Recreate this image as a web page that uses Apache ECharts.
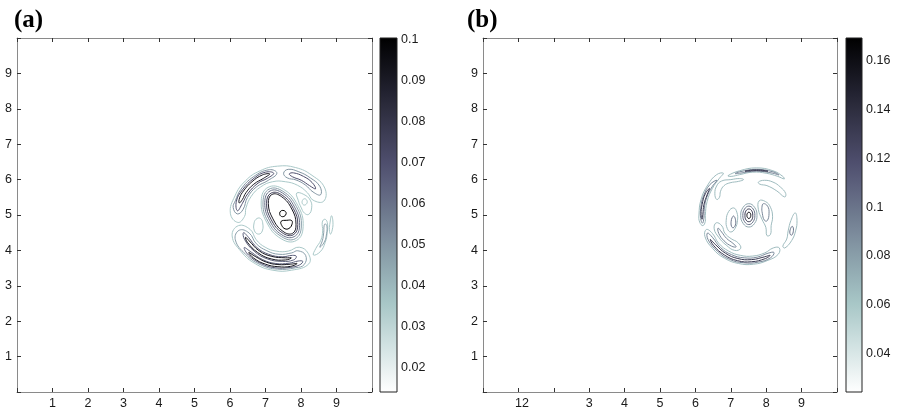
<!DOCTYPE html>
<html><head><meta charset="utf-8">
<script src="https://cdn.jsdelivr.net/npm/echarts@6/dist/echarts.min.js"></script>
<style>html,body{margin:0;padding:0;background:#fff}#c{width:897px;height:411px}</style>
</head><body><div id="c"></div>
<script>
// ---------- axis tick labels ----------
const aXLabels = ['', '1', '2', '3', '4', '5', '6', '7', '8', '9', ''];
const bXLabels = ['', '12', '', '3', '4', '5', '6', '7', '8', '9', ''];
const yLabels  = ['', '1', '2', '3', '4', '5', '6', '7', '8', '9', ''];
// ---------- colorbars ----------
const aCbRange = [0.0141, 0.1004];
const aCbTicks = [0.02, 0.03, 0.04, 0.05, 0.06, 0.07, 0.08, 0.09, 0.1];
const bCbRange = [0.0241, 0.1694];
const bCbTicks = [0.04, 0.06, 0.08, 0.1, 0.12, 0.14, 0.16];

// ---------- panel (a) contour paths (x, y) ----------
const aC1 = [[7.87,4.28],[8.06,4.67],[7.91,5.27],[7.50,5.73],[7.07,5.78],[6.88,5.40],[7.03,4.80],[7.44,4.33]];
const aC2 = [[7.84,4.33],[8.01,4.69],[7.87,5.24],[7.49,5.67],[7.10,5.73],[6.93,5.37],[7.07,4.82],[7.45,4.39]];
const aC3 = [[7.81,4.39],[7.96,4.71],[7.82,5.22],[7.48,5.62],[7.13,5.68],[6.98,5.35],[7.12,4.84],[7.46,4.44]];
const aC4 = [[7.78,4.44],[7.91,4.73],[7.78,5.19],[7.47,5.56],[7.16,5.62],[7.03,5.33],[7.16,4.87],[7.47,4.50]];
const aC5 = [[7.76,4.48],[7.86,4.74],[7.74,5.17],[7.45,5.52],[7.18,5.58],[7.08,5.32],[7.21,4.89],[7.49,4.54]];
const aOval = [[7.49,5.13],[7.56,5.10],[7.58,5.03],[7.52,4.96],[7.43,4.97],[7.40,5.05],[7.43,5.11]];
const aD = [[7.44,4.82],[7.46,4.70],[7.55,4.61],[7.66,4.62],[7.74,4.72],[7.74,4.84],[7.60,4.85]];
const aM1 = [[8.64,5.39],[8.67,5.76],[8.31,6.12],[7.85,6.34],[7.34,6.38],[6.85,6.25],[6.43,5.96],[6.14,5.54],[6.01,5.05],[6.22,4.79],[6.41,4.96],[6.45,5.20],[6.60,5.53],[6.86,5.79],[7.20,5.94],[7.56,5.94],[7.90,5.84],[8.18,5.63],[8.34,5.42]];
const aTL2 = [[7.32,6.18],[7.11,6.28],[6.66,6.08],[6.31,5.73],[6.15,5.40],[6.09,5.21],[6.21,5.03],[6.37,5.16],[6.49,5.49],[6.74,5.79],[7.08,5.98]];
const aTL3 = [[7.23,6.18],[7.00,6.21],[6.68,6.04],[6.35,5.71],[6.18,5.39],[6.21,5.12],[6.35,5.33],[6.50,5.60],[6.79,5.90],[7.06,6.04]];
const aTL4 = [[7.12,6.16],[6.91,6.13],[6.62,5.94],[6.38,5.68],[6.27,5.48],[6.26,5.34],[6.35,5.44],[6.45,5.63],[6.67,5.87],[6.95,6.04]];
const aTR2 = [[8.55,5.57],[8.53,5.81],[8.26,6.05],[7.94,6.22],[7.64,6.29],[7.51,6.18],[7.61,6.05],[7.86,5.99],[8.12,5.85],[8.34,5.65]];
const aTR3 = [[8.41,5.74],[8.31,5.92],[8.07,6.09],[7.79,6.19],[7.67,6.16],[7.76,6.08],[8.01,5.98],[8.24,5.83]];
const aRo = [[8.10,5.46],[8.16,5.42],[8.17,5.34],[8.10,5.28],[8.04,5.32],[8.04,5.41]];
const aRI = [[7.88,5.62],[8.08,5.58],[8.26,5.42],[8.30,5.20],[8.22,5.02],[8.10,5.05],[8.00,5.22],[7.92,5.42]];
const aLo = [[6.86,4.90],[6.92,4.78],[6.91,4.55],[6.81,4.46],[6.69,4.55],[6.68,4.78],[6.76,4.90]];
const aB1 = [[6.24,4.70],[6.06,4.41],[6.32,3.96],[6.72,3.62],[7.21,3.44],[7.73,3.44],[8.22,3.62],[8.20,3.92],[7.95,4.09],[7.64,3.98],[7.30,3.98],[6.99,4.09],[6.74,4.30],[6.57,4.59]];
const aB2 = [[6.26,4.57],[6.15,4.30],[6.44,3.89],[6.85,3.60],[7.34,3.47],[7.85,3.51],[8.09,3.60],[8.13,3.86],[7.91,3.99],[7.74,3.93],[7.38,3.89],[7.04,3.99],[6.74,4.19],[6.54,4.49]];
const aIB1 = [[6.38,4.50],[6.41,4.31],[6.68,3.98],[7.05,3.76],[7.47,3.69],[7.79,3.73],[7.87,3.83],[7.76,3.86],[7.47,3.82],[7.09,3.89],[6.76,4.08],[6.52,4.37]];
const aIB2 = [[6.44,4.37],[6.49,4.23],[6.78,3.94],[7.16,3.76],[7.57,3.73],[7.73,3.79],[7.57,3.79],[7.18,3.83],[6.82,3.99],[6.54,4.27]];
const aOB1 = [[6.40,4.08],[6.52,3.87],[6.87,3.63],[7.27,3.51],[7.69,3.52],[7.96,3.59],[8.05,3.69],[7.92,3.70],[7.67,3.64],[7.29,3.63],[6.92,3.74],[6.60,3.95]];
const aOB2 = [[6.53,3.94],[6.67,3.78],[7.00,3.61],[7.35,3.54],[7.71,3.55],[7.89,3.63],[7.70,3.61],[7.35,3.60],[7.02,3.67],[6.71,3.83]];
const aBR1 = [[8.35,3.87],[8.54,3.96],[8.68,4.22],[8.74,4.51],[8.74,4.79],[8.67,4.88],[8.60,4.80],[8.61,4.55],[8.56,4.29],[8.42,4.06]];
const aBR2 = [[8.53,4.09],[8.66,4.24],[8.72,4.47],[8.73,4.68],[8.68,4.75],[8.65,4.69],[8.64,4.50],[8.60,4.27]];
const aFR = [[8.86,4.98],[8.90,4.80],[8.88,4.58],[8.83,4.46],[8.80,4.58],[8.82,4.80]];
const aPaths  = [aC1, aC2, aC3, aC4, aC5, aOval, aD, aM1, aTL2, aTL3, aTL4, aTR2, aTR3, aRo, aRI, aLo, aB1, aB2, aIB1, aIB2, aOB1, aOB2, aBR1, aBR2, aFR];
const aLevels = [0.035, 0.047, 0.06, 0.075, 0.09, 0.1, 0.1, 0.035, 0.05, 0.07, 0.09, 0.05, 0.07, 0.035, 0.035, 0.035, 0.035, 0.047, 0.065, 0.092, 0.065, 0.092, 0.035, 0.047, 0.035];

// ---------- panel (b) contour paths (x, y) ----------
const bC1 = [[7.51,5.32],[7.67,5.22],[7.74,4.99],[7.67,4.76],[7.51,4.66],[7.35,4.76],[7.28,4.99],[7.35,5.22]];
const bC2 = [[7.51,5.25],[7.63,5.17],[7.68,4.99],[7.63,4.81],[7.51,4.73],[7.39,4.81],[7.34,4.99],[7.39,5.17]];
const bC3 = [[7.51,5.17],[7.59,5.12],[7.62,4.99],[7.59,4.86],[7.51,4.81],[7.43,4.86],[7.40,4.99],[7.43,5.12]];
const bC4 = [[7.51,5.08],[7.55,5.05],[7.565,4.99],[7.55,4.93],[7.51,4.90],[7.47,4.93],[7.455,4.99],[7.47,5.05]];
const bL1 = [[7.08,5.20],[7.17,5.08],[7.19,4.85],[7.12,4.62],[7.00,4.52],[6.90,4.62],[6.87,4.85],[6.94,5.10]];
const bL2 = [[7.08,4.97],[7.13,4.88],[7.13,4.72],[7.07,4.64],[7.02,4.68],[7.01,4.82],[7.04,4.93]];
const bV1 = [[7.80,5.40],[7.98,5.38],[8.12,5.22],[8.18,4.95],[8.14,4.70],[8.12,4.45],[8.02,4.42],[7.99,4.65],[7.88,4.88],[7.78,5.15]];
const bV2 = [[7.92,5.32],[8.04,5.25],[8.08,5.05],[8.03,4.84],[7.95,4.85],[7.89,5.05],[7.88,5.22]];
const bTL = [[6.60,5.44],[6.55,5.60],[6.60,5.82],[6.74,5.96],[7.00,6.00],[7.25,6.03],[7.36,6.00],[7.22,5.95],[6.98,5.91],[6.81,5.83],[6.71,5.67],[6.68,5.50]];
const bTR = [[7.78,5.93],[7.95,5.98],[8.19,5.93],[8.40,5.79],[8.55,5.61],[8.52,5.51],[8.30,5.68],[8.02,5.83],[7.82,5.87]];
const bT1 = [[6.92,6.11],[7.25,6.25],[7.72,6.33],[8.19,6.25],[8.47,6.09],[8.51,6.02],[8.33,6.09],[8.00,6.18],[7.62,6.21],[7.25,6.14],[7.01,6.09]];
const bT2 = [[7.12,6.17],[7.25,6.22],[7.72,6.29],[8.19,6.22],[8.36,6.13],[8.19,6.18],[7.72,6.24],[7.25,6.18]];
const bT3 = [[7.40,6.235],[7.72,6.275],[8.05,6.235],[7.72,6.255]];
const bA1 = [[6.79,6.18],[6.60,6.14],[6.35,5.85],[6.16,5.44],[6.10,5.00],[6.12,4.80],[6.21,4.70],[6.28,4.82],[6.28,4.99],[6.33,5.38],[6.48,5.75],[6.68,6.04]];
const bA2 = [[6.61,5.98],[6.41,5.86],[6.23,5.54],[6.15,5.19],[6.15,4.90],[6.20,4.77],[6.24,4.91],[6.25,5.17],[6.32,5.50],[6.48,5.81]];
const bA3 = [[6.40,5.75],[6.28,5.60],[6.19,5.30],[6.16,5.02],[6.19,4.88],[6.21,5.02],[6.24,5.29],[6.33,5.57]];
const bB1 = [[6.31,4.59],[6.27,4.39],[6.49,4.05],[6.82,3.78],[7.22,3.63],[7.64,3.61],[8.05,3.72],[8.34,3.89],[8.37,4.07],[8.20,4.07],[7.96,3.93],[7.62,3.84],[7.27,3.86],[6.94,3.98],[6.66,4.20],[6.48,4.48]];
const bB2 = [[6.34,4.49],[6.36,4.30],[6.62,3.98],[6.96,3.75],[7.36,3.65],[7.78,3.67],[8.12,3.79],[8.22,3.94],[8.05,3.92],[7.75,3.81],[7.38,3.79],[7.02,3.88],[6.71,4.08],[6.48,4.37]];
const bB3 = [[6.42,4.31],[6.52,4.13],[6.82,3.87],[7.19,3.71],[7.59,3.68],[7.98,3.77],[8.11,3.86],[7.96,3.82],[7.59,3.74],[7.20,3.77],[6.85,3.92],[6.56,4.17]];
const bBL1 = [[6.59,4.78],[6.53,4.61],[6.66,4.37],[6.87,4.15],[7.11,4.00],[7.28,4.06],[7.20,4.22],[7.01,4.33],[6.83,4.49],[6.75,4.69]];
const bBL2 = [[6.64,4.63],[6.66,4.48],[6.81,4.27],[7.02,4.12],[7.15,4.10],[7.06,4.20],[6.88,4.34],[6.74,4.52]];
const bRS1 = [[8.82,5.06],[8.87,4.85],[8.83,4.55],[8.72,4.28],[8.53,4.07],[8.47,4.12],[8.58,4.32],[8.62,4.55],[8.70,4.85]];
const bRS2 = [[8.74,4.68],[8.77,4.57],[8.72,4.43],[8.67,4.48],[8.69,4.62]];
const bPaths  = [bC1, bC2, bC3, bC4, bL1, bL2, bV1, bV2, bTL, bTR, bT1, bT2, bT3, bA1, bA2, bA3, bB1, bB2, bB3, bBL1, bBL2, bRS1, bRS2];
const bLevels = [0.075, 0.1, 0.13, 0.16, 0.066, 0.1, 0.066, 0.09, 0.066, 0.066, 0.066, 0.09, 0.13, 0.066, 0.09, 0.13, 0.066, 0.09, 0.13, 0.066, 0.09, 0.066, 0.1];

// ---------- colour map (reversed "bone") ----------
const BONE = [[0,0,0,0],[0.365,0.319,0.319,0.444],[0.746,0.652,0.778,0.778],[1,1,1,1]];
function bone(s) {
  s = Math.max(0, Math.min(1, s));
  for (let k = 1; k < BONE.length; k++) {
    if (s <= BONE[k][0]) {
      const a = BONE[k-1], b = BONE[k], f = (s - a[0]) / (b[0] - a[0]);
      return [1,2,3].map(j => Math.round(255 * (a[j] + f * (b[j] - a[j]))));
    }
  }
  return [255,255,255];
}
function cmap(v, rng) {
  const t = (v - rng[0]) / (rng[1] - rng[0]);
  const c = bone(1 - t);
  return 'rgb(' + c.join(',') + ')';
}

const FONT = '"Liberation Sans", Arial, Helvetica, sans-serif';
const FRAME = '#8a8a8a';
const TICK = '#333';

function mainX(grid, labels, top) {
  return { gridIndex: grid, type: 'value', min: 0, max: 10, interval: 1, position: top ? 'top' : 'bottom',
    axisLine: { show: true, onZero: false, lineStyle: { color: FRAME, width: 1 } },
    axisTick: { show: true, inside: true, length: 4, lineStyle: { color: TICK } },
    axisLabel: { show: !top, margin: 5, color: '#1a1a1a', fontSize: 12.5, fontFamily: FONT,
      formatter: v => { const s = labels[Math.round(v)]; return s.length > 1 ? '{w|' + s + '}' : s; },
      rich: { w: { fontSize: 12.5, fontFamily: FONT, color: '#1a1a1a', padding: [0, 0, 0, 7] } } },
    splitLine: { show: false } };
}
function mainY(grid, right) {
  return { gridIndex: grid, type: 'value', min: 0, max: 10, interval: 1, position: right ? 'right' : 'left',
    axisLine: { show: true, onZero: false, lineStyle: { color: FRAME, width: 1 } },
    axisTick: { show: true, inside: true, length: 4, lineStyle: { color: TICK } },
    axisLabel: { show: !right, margin: 5, color: '#1a1a1a', fontSize: 12.5, fontFamily: FONT,
      formatter: v => yLabels[Math.round(v)] },
    splitLine: { show: false } };
}
function cbX(grid) {
  return { gridIndex: grid, type: 'value', min: 0, max: 1, show: false };
}
function cbY(grid, rng, ticks) {
  return { gridIndex: grid, type: 'value', min: rng[0], max: rng[1], position: 'right',
    axisLine: { show: false, onZero: false },
    axisTick: { show: true, inside: true, length: 3, customValues: ticks, lineStyle: { color: '#222' } },
    axisLabel: { show: true, margin: 4, color: '#1a1a1a', fontSize: 12.5, fontFamily: FONT, customValues: ticks },
    splitLine: { show: false } };
}
function contourSeries(paths, levels, rng, xi, yi) {
  return { type: 'custom', xAxisIndex: xi, yAxisIndex: yi, silent: true, animation: false, z: 3,
    data: levels.map((lv, i) => [i, lv]),
    renderItem: (params, api) => {
      const idx = api.value(0);
      const pts = paths[idx].map(p => api.coord(p));
      return { type: 'polygon', shape: { points: pts, smooth: 0.45 },
        style: { fill: 'none', stroke: cmap(api.value(1), rng), lineWidth: 1 } };
    } };
}
function colorbarSeries(rng, xi, yi) {
  const stops = [];
  for (let k = 0; k <= 20; k++) {
    const v = rng[1] - (k / 20) * (rng[1] - rng[0]);
    stops.push({ offset: k / 20, color: cmap(v, rng) });
  }
  return { type: 'custom', xAxisIndex: xi, yAxisIndex: yi, silent: true, animation: false,
    data: [[0, rng[0], 1, rng[1]]],
    renderItem: (params, api) => {
      const a = api.coord([api.value(0), api.value(1)]);
      const b = api.coord([api.value(2), api.value(3)]);
      return { type: 'rect', shape: { x: a[0], y: b[1], width: b[0] - a[0], height: a[1] - b[1] },
        style: { fill: new echarts.graphic.LinearGradient(0, 0, 0, 1, stops), stroke: '#222', lineWidth: 1 } };
    } };
}

const chart = echarts.init(document.getElementById('c'), null, { renderer: 'canvas' });
chart.setOption({
  animation: false,
  backgroundColor: '#fff',
  grid: [
    { left: 17, top: 38, width: 355, height: 354 },
    { left: 380, top: 38, width: 17, height: 354 },
    { left: 483, top: 38, width: 354, height: 354 },
    { left: 846, top: 38, width: 16, height: 354 }
  ],
  xAxis: [ mainX(0, aXLabels, false), mainX(0, aXLabels, true), cbX(1),
           mainX(2, bXLabels, false), mainX(2, bXLabels, true), cbX(3) ],
  yAxis: [ mainY(0, false), mainY(0, true), cbY(1, aCbRange, aCbTicks),
           mainY(2, false), mainY(2, true), cbY(3, bCbRange, bCbTicks) ],
  graphic: [
    { type: 'text', left: 14, top: 8, style: { text: '(a)', font: 'bold 25px "Liberation Serif", "Times New Roman", serif', fill: '#000' } },
    { type: 'text', left: 467, top: 8, style: { text: '(b)', font: 'bold 25px "Liberation Serif", "Times New Roman", serif', fill: '#000' } }
  ],
  series: [
    contourSeries(aPaths, aLevels, aCbRange, 0, 0),
    colorbarSeries(aCbRange, 2, 2),
    contourSeries(bPaths, bLevels, bCbRange, 3, 3),
    colorbarSeries(bCbRange, 5, 5)
  ]
});
</script></body></html>
